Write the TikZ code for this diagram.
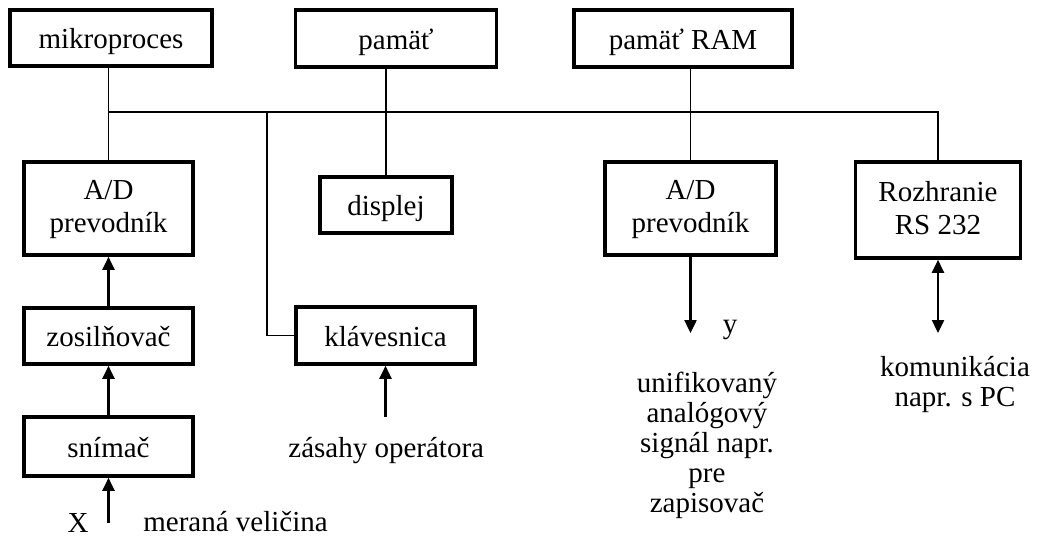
\documentclass[tikz,border=0pt]{standalone}
\usepackage{fontspec}
\setmainfont{Liberation Serif}
\usetikzlibrary{arrows.meta}
\begin{document}
\begin{tikzpicture}[x=0.5pt,y=-0.5pt,
  every node/.style={font=\fontsize{14.5}{16.5}\selectfont},
  blk/.style={draw, line width=1.8pt, inner sep=0pt, align=center},
  oneline/.style={blk, text height=11.5pt, text depth=1pt},
  bus/.style={line width=0.7pt},
  sig/.style={line width=1.2pt, -{Triangle[width=6pt,length=6.5pt]}},
  sigboth/.style={line width=1.2pt, {Triangle[width=6pt,length=6.5pt]}-{Triangle[width=6pt,length=6.5pt]}},
  lbl/.style={inner sep=0pt, anchor=base},
  note/.style={inner sep=0pt, anchor=base, align=center, font=\fontsize{14.5}{15}\selectfont},
]
\useasboundingbox (0,0) rectangle (1039,536);

% top row
\node[oneline, minimum width=101pt, minimum height=28pt] (mikro) at (111,38) {mikroproces};
\node[oneline, minimum width=100.5pt, minimum height=28.5pt] (pam) at (396,38.5) {pamäť};
\node[oneline, minimum width=109pt, minimum height=28.5pt] (ram) at (683,38.5) {pamäť RAM};

% peripheral blocks
\node[blk, minimum width=84.5pt, minimum height=46.5pt, text depth=2pt] (adl) at (108.5,208.5) {A/D\\prevodník};
\node[oneline, minimum width=66pt, minimum height=28pt] (disp) at (386,205) {displej};
\node[oneline, minimum width=84.5pt, minimum height=28pt] (zos) at (108.5,336) {zosilňovač};
\node[oneline, minimum width=89.5pt, minimum height=28.5pt] (klav) at (385.5,335.5) {klávesnica};
\node[oneline, minimum width=84.5pt, minimum height=29.5pt] (snim) at (108.5,446.5) {snímač};
\node[blk, minimum width=85.5pt, minimum height=46.5pt, text depth=2pt] (adr) at (690.5,208.5) {A/D\\prevodník};
\node[blk, minimum width=82.5pt, minimum height=48pt, text depth=2pt] (roz) at (938,210) {Rozhranie\\RS 232};

% system bus
\coordinate (busL) at (108.5,112);
\coordinate (busR) at (938,112);
\coordinate (kj) at (267,112);
\draw[bus] (adl.north |- mikro.south) -- (adl.north);
\draw[bus] (busL) -- (busR) -- (roz.north);
\draw[bus] (disp.north |- pam.south) -- (disp.north);
\draw[bus] (adr.north |- ram.south) -- (adr.north);
\draw[bus] (kj) |- (klav.west);

% signal paths
\coordinate (xin) at (108.5,523);
\coordinate (opin) at (385.5,417);
\coordinate (yout) at (690.5,333);
\coordinate (pc) at (938,333);
\draw[sig] (zos.north) -- (adl.south);
\draw[sig] (snim.north) -- (zos.south);
\draw[sig] (xin) -- (snim.south);
\draw[sig] (opin) -- (klav.south);
\draw[sig] (adr.south) -- (yout);
\draw[sigboth] (roz.south) -- (pc);

% labels
\node[lbl] (xlab) at (78,532) {X};
\node[lbl, anchor=base west] (mer) at (143,531) {meraná veličina};
\node[lbl, anchor=base west] (zas) at (288,457) {zásahy operátora};
\node[lbl] (ylab) at (730,333) {y};
\node[note] (uni) at (707,512) {unifikovaný\\analógový\\signál napr.\\pre\\zapisovač};
\node[note] (kom) at (955,406) {komunikácia\\napr. s PC};
\end{tikzpicture}
\end{document}
